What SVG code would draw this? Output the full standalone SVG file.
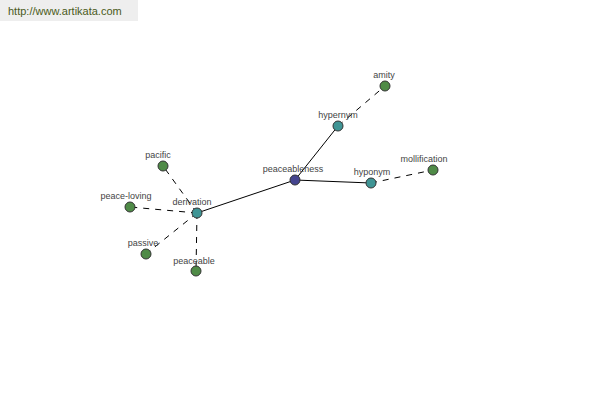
<svg xmlns="http://www.w3.org/2000/svg" width="600" height="400" viewBox="0 0 600 400">
<style>
.lbl{font-family:"Liberation Sans",Arial,sans-serif;font-size:9px;fill:#444;text-anchor:middle}
.solid{stroke:#000;stroke-width:1;fill:none}
.dash{stroke:#000;stroke-width:1;fill:none;stroke-dasharray:6,6}
.n circle{stroke:#333;stroke-width:1}
.root circle{fill:#45458f}
.mid circle{fill:#3f9595}
.leaf circle{fill:#4f8b47}
</style>
<rect x="0" y="0" width="138" height="21" fill="#eeeeee"/>
<text x="8" y="15" style="font-family:'Liberation Sans',Arial,sans-serif;font-size:11px;fill:#4a5a1a">http://www.artikata.com</text>
<g id="connectors">
<line class="solid" x1="295" y1="180" x2="338" y2="126"/>
<line class="solid" x1="295" y1="180" x2="371" y2="183"/>
<line class="solid" x1="295" y1="180" x2="197" y2="213"/>
<line class="dash" x1="338" y1="126" x2="385" y2="86"/>
<line class="dash" x1="371" y1="183" x2="433" y2="170"/>
<line class="dash" x1="197" y1="213" x2="163" y2="166"/>
<line class="dash" x1="197" y1="213" x2="130" y2="207"/>
<line class="dash" x1="197" y1="213" x2="146" y2="254"/>
<line class="dash" x1="197" y1="213" x2="196" y2="271"/>
</g>
<g id="peaceableness" class="n root"><circle cx="295" cy="180" r="5"/><text class="lbl" x="293" y="172">peaceableness</text></g>
<g id="hypernym" class="n mid"><circle cx="338" cy="126" r="5"/><text class="lbl" x="338" y="118">hypernym</text></g>
<g id="hyponym" class="n mid"><circle cx="371" cy="183" r="5"/><text class="lbl" x="372" y="175">hyponym</text></g>
<g id="derivation" class="n mid"><circle cx="197" cy="213" r="5"/><text class="lbl" x="192" y="205">derivation</text></g>
<g id="amity" class="n leaf"><circle cx="385" cy="86" r="5"/><text class="lbl" x="384" y="78">amity</text></g>
<g id="mollification" class="n leaf"><circle cx="433" cy="170" r="5"/><text class="lbl" x="424" y="162">mollification</text></g>
<g id="pacific" class="n leaf"><circle cx="163" cy="166" r="5"/><text class="lbl" x="158" y="158">pacific</text></g>
<g id="peace-loving" class="n leaf"><circle cx="130" cy="207" r="5"/><text class="lbl" x="126" y="199">peace-loving</text></g>
<g id="passive" class="n leaf"><circle cx="146" cy="254" r="5"/><text class="lbl" x="143" y="246">passive</text></g>
<g id="peaceable" class="n leaf"><circle cx="196" cy="271" r="5"/><text class="lbl" x="194" y="264">peaceable</text></g>
</svg>
